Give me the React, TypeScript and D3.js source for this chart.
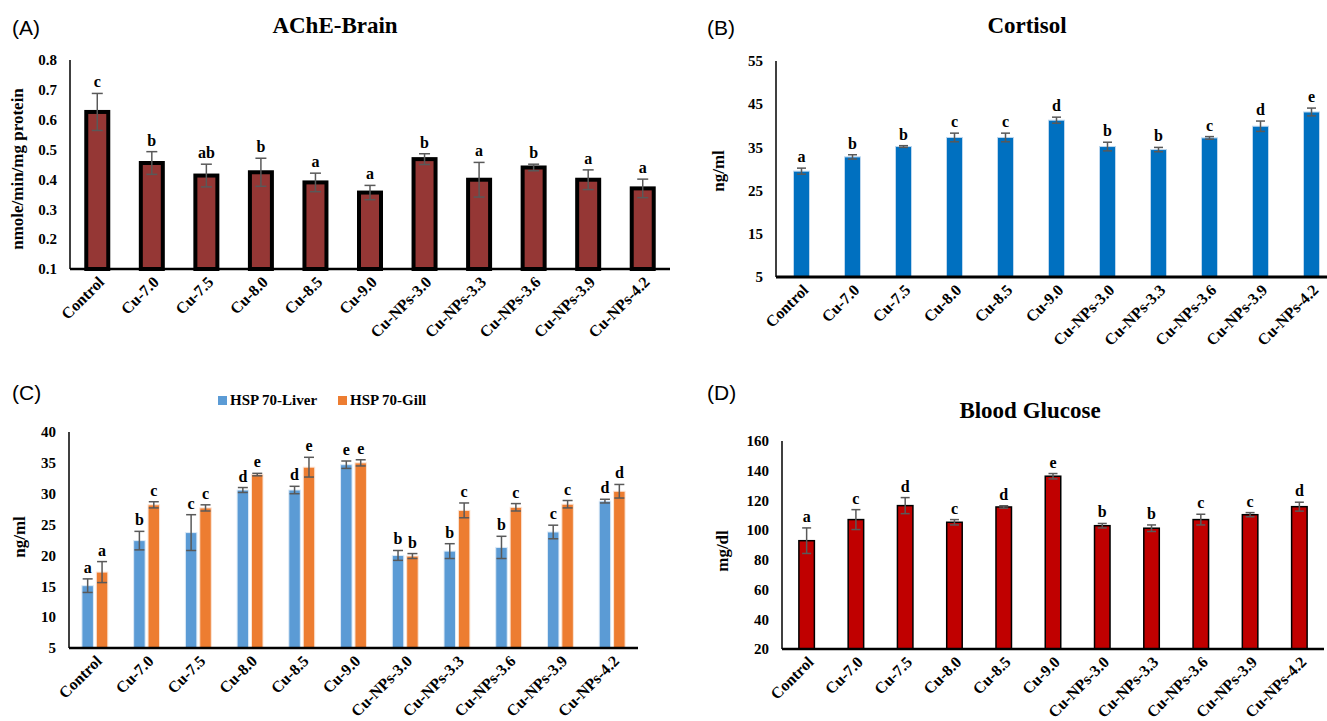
import React from "react";
import * as d3 from "d3";

const categories = ["Control","Cu-7.0","Cu-7.5","Cu-8.0","Cu-8.5","Cu-9.0","Cu-NPs-3.0","Cu-NPs-3.3","Cu-NPs-3.6","Cu-NPs-3.9","Cu-NPs-4.2"];

const acheMean = [0.626,0.455,0.413,0.424,0.390,0.356,0.468,0.399,0.440,0.399,0.370];
const acheErr = [0.062,0.038,0.038,0.047,0.031,0.024,0.018,0.058,0.011,0.033,0.031];
const acheLetters = ["c","b","ab","b","a","a","b","a","b","a","a"];
const acheTicks = [0.1,0.2,0.3,0.4,0.5,0.6,0.7,0.8];

const cortisolMean = [29.5,32.8,35.2,37.3,37.3,41.3,35.2,34.5,37.2,39.9,43.2];
const cortisolErr = [0.7,0.5,0.2,1.0,1.0,0.7,1.0,0.5,0.3,1.2,0.9];
const cortisolLetters = ["a","b","b","c","c","d","b","b","c","d","e"];
const cortisolTicks = [5,15,25,35,45,55];

const hspLiver = [15.1,22.4,23.7,30.6,30.6,34.7,20.0,20.7,21.3,23.8,28.8];
const hspLiverErr = [1.1,1.5,2.9,0.4,0.6,0.6,0.8,1.2,1.8,1.1,0.3];
const hspLiverLetters = ["a","b","c","d","d","e","b","b","b","c","d"];
const hspGill = [17.3,28.2,27.7,33.1,34.3,35.0,19.9,27.3,27.8,28.3,30.4];
const hspGillErr = [1.7,0.5,0.5,0.2,1.6,0.5,0.4,1.2,0.6,0.6,1.1];
const hspGillLetters = ["a","c","c","e","e","e","b","c","c","c","d"];
const hspTicks = [5,10,15,20,25,30,35,40];
const hspSeriesNames = ["HSP 70-Liver","HSP 70-Gill"];

const glucoseMean = [92.9,107.1,116.5,105.3,115.6,136.3,103.0,101.3,107.1,110.4,115.8];
const glucoseErr = [8.6,6.7,5.4,1.8,0.8,1.8,1.5,2.2,3.6,1.4,3.0];
const glucoseLetters = ["a","c","d","c","d","e","b","b","c","c","d"];
const glucoseTicks = [20,40,60,80,100,120,140,160];

const SERIF = "'Liberation Serif','Times New Roman',serif";
const SANS = "'Liberation Sans',Arial,sans-serif";
const ERR = "#595959";

type Series = { values: number[]; errs: number[]; letters: string[]; fill: string; stroke: string; strokeW: number; offset: number };

type PanelProps = {
  x0: number; x1: number; yTop: number; yBottom: number;
  domain: [number, number]; ticks: number[]; fmt: (v: number) => string;
  series: Series[]; barW: number; cap: number;
  yLabel: string; yLabelX: number; yLabelY: number;
  xAxisW: number;
};

function Panel(p: PanelProps) {
  const x = d3.scaleBand<string>().domain(categories).range([p.x0, p.x1]).padding(0);
  const y = d3.scaleLinear().domain(p.domain).range([p.yBottom, p.yTop]);
  const bw = x.bandwidth();
  return (
    <g>
      {p.series.map((s, si) => (
        <g key={si}>
          {categories.map((c, i) => {
            const cx = (x(c) as number) + bw / 2 + s.offset;
            const v = s.values[i];
            const e = s.errs[i];
            const top = y(v);
            return (
              <g key={c}>
                <rect x={cx - p.barW / 2} y={top} width={p.barW} height={p.yBottom - top}
                  fill={s.fill} stroke={s.stroke} strokeWidth={s.strokeW} />
                <line x1={cx} x2={cx} y1={y(v - e)} y2={y(v + e)} stroke={ERR} strokeWidth={1.5} />
                <line x1={cx - p.cap / 2} x2={cx + p.cap / 2} y1={y(v - e)} y2={y(v - e)} stroke={ERR} strokeWidth={1.5} />
                <line x1={cx - p.cap / 2} x2={cx + p.cap / 2} y1={y(v + e)} y2={y(v + e)} stroke={ERR} strokeWidth={1.5} />
                <text x={cx} y={y(v + e) - 6} textAnchor="middle" fontFamily={SERIF} fontWeight="bold" fontSize={16}>{s.letters[i]}</text>
              </g>
            );
          })}
        </g>
      ))}
      <line x1={p.x0} x2={p.x0} y1={p.yTop} y2={p.yBottom} stroke="#000" strokeWidth={1.5} />
      <line x1={p.x0} x2={p.x1} y1={p.yBottom} y2={p.yBottom} stroke="#000" strokeWidth={p.xAxisW} />
      {p.ticks.map((t) => (
        <text key={t} x={p.x0 - 13} y={y(t)} dy="0.35em" textAnchor="end" fontFamily={SERIF} fontWeight="bold" fontSize={15}>{p.fmt(t)}</text>
      ))}
      {categories.map((c) => {
        const cx = (x(c) as number) + bw / 2;
        const ax = cx + 8, ay = p.yBottom + 14;
        return (
          <text key={c} x={ax} y={ay} textAnchor="end" transform={`rotate(-45 ${ax} ${ay})`} fontFamily={SERIF} fontWeight="bold" fontSize={16}>{c}</text>
        );
      })}
      <text transform={`translate(${p.yLabelX},${p.yLabelY}) rotate(-90)`} textAnchor="middle" dy="0.35em" fontFamily={SERIF} fontWeight="bold" fontSize={17}>{p.yLabel}</text>
    </g>
  );
}

export default function App() {
  const f1 = d3.format(".1f");
  const f0 = d3.format("d");
  return (
    <svg width={1327} height={721} style={{ position: "absolute", left: 0, top: 0, background: "#fff" }}>
      <rect width={1327} height={721} fill="#fff" />
      {/* Panel A */}
      <text x={12} y={35} fontFamily={SANS} fontSize={21}>(A)</text>
      <text x={335} y={33} textAnchor="middle" fontFamily={SERIF} fontWeight="bold" fontSize={23}>AChE-Brain</text>
      <Panel x0={70} x1={670} yTop={60} yBottom={269} domain={[0.1, 0.8]} ticks={acheTicks} fmt={f1}
        series={[{ values: acheMean, errs: acheErr, letters: acheLetters, fill: "#953735", stroke: "#000", strokeW: 4, offset: 0 }]}
        barW={22} cap={11} yLabel="nmole/min/mg protein" yLabelX={17} yLabelY={169} xAxisW={2.5} />
      {/* Panel B */}
      <text x={707} y={35} fontFamily={SANS} fontSize={21}>(B)</text>
      <text x={1027} y={33} textAnchor="middle" fontFamily={SERIF} fontWeight="bold" fontSize={23}>Cortisol</text>
      <Panel x0={776} x1={1337} yTop={61} yBottom={277} domain={[5, 55]} ticks={cortisolTicks} fmt={f0}
        series={[{ values: cortisolMean, errs: cortisolErr, letters: cortisolLetters, fill: "#0070C0", stroke: "#BDD7EE", strokeW: 1, offset: 0 }]}
        barW={16} cap={9} yLabel="ng/ml" yLabelX={718} yLabelY={171} xAxisW={3} />
      {/* Panel C */}
      <text x={12} y={400} fontFamily={SANS} fontSize={21}>(C)</text>
      <rect x={218} y={396} width={9} height={9} fill="#5B9BD5" />
      <text x={230} y={405} fontFamily={SERIF} fontWeight="bold" fontSize={15}>{hspSeriesNames[0]}</text>
      <rect x={338} y={396} width={9} height={9} fill="#ED7D31" />
      <text x={350} y={405} fontFamily={SERIF} fontWeight="bold" fontSize={15}>{hspSeriesNames[1]}</text>
      <Panel x0={69} x1={638} yTop={432} yBottom={648} domain={[5, 40]} ticks={hspTicks} fmt={f0}
        series={[
          { values: hspLiver, errs: hspLiverErr, letters: hspLiverLetters, fill: "#5B9BD5", stroke: "#DEEBF7", strokeW: 1, offset: -7.2 },
          { values: hspGill, errs: hspGillErr, letters: hspGillLetters, fill: "#ED7D31", stroke: "#FBE5D6", strokeW: 1, offset: 7.2 },
        ]}
        barW={11.5} cap={10} yLabel="ng/ml" yLabelX={19} yLabelY={537} xAxisW={2.5} />
      {/* Panel D */}
      <text x={707} y={400} fontFamily={SANS} fontSize={21}>(D)</text>
      <text x={1030} y={418} textAnchor="middle" fontFamily={SERIF} fontWeight="bold" fontSize={23}>Blood Glucose</text>
      <Panel x0={782} x1={1324} yTop={441} yBottom={649} domain={[20, 160]} ticks={glucoseTicks} fmt={f0}
        series={[{ values: glucoseMean, errs: glucoseErr, letters: glucoseLetters, fill: "#C00000", stroke: "#000", strokeW: 1.5, offset: 0 }]}
        barW={15.5} cap={9} yLabel="mg/dl" yLabelX={722} yLabelY={551} xAxisW={2.5} />
    </svg>
  );
}
